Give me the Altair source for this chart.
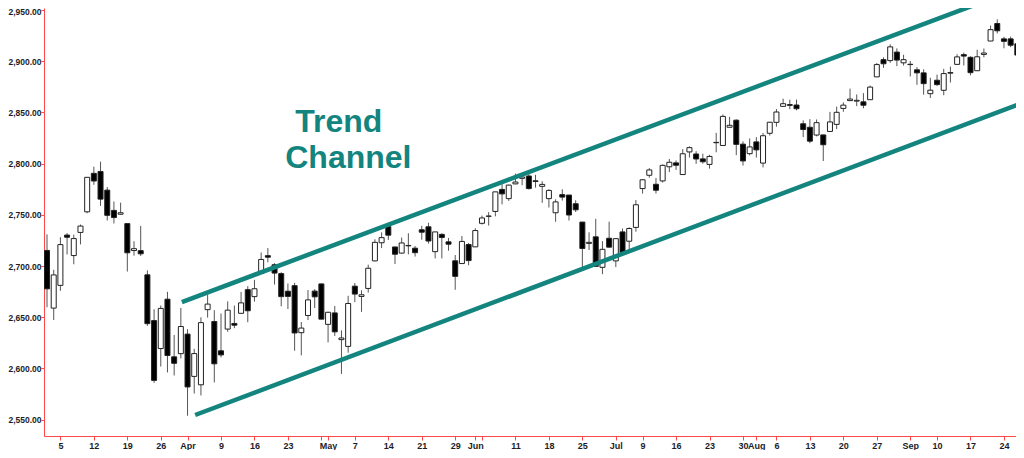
import json
import altair as alt
import pandas as pd

# ---- data (S&P 500 daily candles, Mar–Sep 2018) ----
dates = [
    "03-01", "03-02", "03-05", "03-06", "03-07", "03-08", "03-09", "03-12", "03-13", "03-14",
    "03-15", "03-16", "03-19", "03-20", "03-21", "03-22", "03-23", "03-26", "03-27", "03-28", "03-29",
    "04-02", "04-03", "04-04", "04-05", "04-06", "04-09", "04-10", "04-11", "04-12", "04-13",
    "04-16", "04-17", "04-18", "04-19", "04-20", "04-23", "04-24", "04-25", "04-26", "04-27", "04-30",
    "05-01", "05-02", "05-03", "05-04", "05-07", "05-08", "05-09", "05-10", "05-11", "05-14",
    "05-15", "05-16", "05-17", "05-18", "05-21", "05-22", "05-23", "05-24", "05-25", "05-29", "05-30", "05-31",
    "06-01", "06-04", "06-05", "06-06", "06-07", "06-08", "06-11", "06-12", "06-13", "06-14",
    "06-15", "06-18", "06-19", "06-20", "06-21", "06-22", "06-25", "06-26", "06-27", "06-28", "06-29",
    "07-02", "07-03", "07-05", "07-06", "07-09", "07-10", "07-11", "07-12", "07-13", "07-16",
    "07-17", "07-18", "07-19", "07-20", "07-23", "07-24", "07-25", "07-26", "07-27", "07-30", "07-31",
    "08-01", "08-02", "08-03", "08-06", "08-07", "08-08", "08-09", "08-10", "08-13", "08-14",
    "08-15", "08-16", "08-17", "08-20", "08-21", "08-22", "08-23", "08-24", "08-27", "08-28",
    "08-29", "08-30", "08-31",
    "09-04", "09-05", "09-06", "09-07", "09-10", "09-11", "09-12", "09-13", "09-14", "09-17",
    "09-18", "09-19", "09-20", "09-21", "09-24", "09-25", "09-26",
]
opens = [
    2715.2, 2658.9, 2681.1, 2730.2, 2710.2, 2732.8, 2752.9, 2790.5, 2792.3, 2774.1,
    2754.3, 2750.6, 2741.4, 2715.1, 2715.0, 2691.4, 2646.7, 2619.4, 2667.6, 2611.3, 2614.4,
    2633.5, 2592.2, 2584.0, 2657.4, 2645.8, 2617.2, 2638.4, 2643.9, 2653.8, 2676.9,
    2670.1, 2692.7, 2710.1, 2701.2, 2692.6, 2675.4, 2680.8, 2634.9, 2651.7, 2675.5, 2682.5,
    2643.0, 2654.2, 2628.1, 2621.5, 2680.3, 2670.3, 2678.1, 2705.0, 2722.7, 2738.5,
    2718.6, 2712.6, 2719.7, 2717.4, 2735.4, 2738.3, 2714.0, 2730.9, 2723.6, 2705.1, 2702.4, 2721.0,
    2718.7, 2741.7, 2748.5, 2753.3, 2774.8, 2765.8, 2780.2, 2785.6, 2787.9, 2783.2,
    2777.8, 2765.8, 2752.0, 2769.7, 2769.3, 2760.8, 2742.9, 2722.1, 2728.5, 2698.7, 2727.1,
    2705.0, 2733.3, 2724.2, 2737.7, 2775.6, 2788.6, 2779.8, 2783.1, 2796.9, 2800.7,
    2789.3, 2811.4, 2809.4, 2804.6, 2799.2, 2820.7, 2817.7, 2835.5, 2842.4, 2819.0, 2809.7,
    2821.2, 2800.5, 2829.6, 2840.3, 2855.9, 2856.8, 2857.2, 2838.9, 2835.5, 2827.9,
    2828.0, 2831.4, 2838.3, 2853.9, 2861.5, 2861.0, 2860.3, 2862.4, 2884.7, 2901.5,
    2900.6, 2908.9, 2898.4,
    2897.0, 2891.6, 2888.6, 2868.3, 2881.4, 2871.6, 2888.3, 2896.9, 2906.4, 2903.8,
    2890.7, 2906.6, 2919.7, 2936.8, 2921.8, 2921.8, 2917.0,
]
highs = [
    2730.9, 2696.3, 2728.1, 2732.1, 2730.6, 2740.5, 2786.6, 2797.0, 2801.9, 2777.1,
    2763.0, 2761.9, 2741.4, 2724.2, 2739.1, 2695.7, 2657.7, 2661.4, 2674.8, 2632.7, 2659.1,
    2638.3, 2619.1, 2649.9, 2672.1, 2656.9, 2653.6, 2665.5, 2661.4, 2674.7, 2680.3,
    2686.5, 2713.3, 2717.5, 2702.8, 2693.9, 2682.9, 2683.6, 2645.3, 2676.5, 2677.4, 2682.9,
    2655.3, 2660.9, 2637.1, 2670.9, 2683.4, 2676.3, 2701.3, 2726.1, 2732.9, 2742.1,
    2718.6, 2727.8, 2732.0, 2719.5, 2739.2, 2742.2, 2733.3, 2732.0, 2727.4, 2710.7, 2729.3, 2722.5,
    2736.9, 2749.2, 2752.6, 2772.4, 2779.9, 2779.4, 2790.2, 2789.8, 2791.5, 2789.1,
    2782.8, 2775.0, 2765.1, 2774.9, 2769.3, 2764.2, 2742.9, 2732.9, 2746.1, 2724.3, 2743.3,
    2727.3, 2736.6, 2737.8, 2764.4, 2784.7, 2795.6, 2785.9, 2799.2, 2804.5, 2803.1,
    2814.2, 2816.8, 2812.1, 2809.7, 2808.6, 2830.0, 2848.0, 2845.6, 2843.2, 2821.7, 2824.5,
    2825.8, 2829.9, 2840.4, 2853.3, 2863.4, 2862.4, 2862.5, 2842.2, 2843.4, 2843.1,
    2828.0, 2850.5, 2855.6, 2859.8, 2873.2, 2867.5, 2868.8, 2876.2, 2898.3, 2903.8,
    2916.5, 2912.5, 2906.3,
    2900.2, 2894.2, 2892.1, 2883.8, 2886.9, 2892.5, 2894.7, 2906.8, 2908.3, 2904.7,
    2911.2, 2912.4, 2934.8, 2940.9, 2923.8, 2924.0, 2931.2,
]
lows = [
    2659.7, 2647.3, 2675.8, 2711.3, 2701.7, 2721.1, 2751.5, 2779.3, 2758.7, 2744.4,
    2741.5, 2750.0, 2694.6, 2710.1, 2709.8, 2641.6, 2585.9, 2601.8, 2596.1, 2593.1, 2609.7,
    2553.8, 2575.5, 2573.6, 2649.6, 2586.3, 2610.8, 2635.8, 2639.3, 2653.8, 2645.1,
    2665.2, 2692.1, 2703.6, 2681.9, 2660.6, 2658.0, 2617.3, 2612.7, 2647.2, 2659.0, 2648.0,
    2625.4, 2631.7, 2594.6, 2615.3, 2664.7, 2655.2, 2674.1, 2704.5, 2717.5, 2725.5,
    2701.9, 2712.2, 2711.4, 2709.2, 2725.7, 2721.9, 2707.4, 2707.4, 2715.0, 2676.8, 2702.4, 2700.7,
    2718.7, 2740.5, 2739.5, 2748.5, 2760.2, 2763.6, 2779.9, 2778.8, 2774.7, 2776.5,
    2761.7, 2757.1, 2743.2, 2763.9, 2744.4, 2752.7, 2698.7, 2715.6, 2699.4, 2692.0, 2718.0,
    2699.0, 2711.2, 2716.0, 2733.5, 2770.7, 2786.2, 2770.8, 2781.5, 2791.7, 2793.8,
    2789.2, 2805.9, 2799.8, 2800.0, 2795.1, 2811.1, 2817.7, 2835.3, 2808.3, 2798.1, 2808.1,
    2805.9, 2796.3, 2827.4, 2836.0, 2855.9, 2853.1, 2852.0, 2825.8, 2819.9, 2826.6,
    2802.5, 2831.4, 2833.7, 2850.6, 2861.3, 2856.1, 2854.0, 2862.4, 2884.7, 2893.5,
    2898.4, 2895.2, 2895.8,
    2885.1, 2876.9, 2867.3, 2864.1, 2875.9, 2866.8, 2879.2, 2896.4, 2895.8, 2886.2,
    2890.4, 2903.8, 2919.7, 2927.1, 2912.6, 2913.7, 2903.3,
]
closes = [
    2677.7, 2691.3, 2720.9, 2728.1, 2726.8, 2739.0, 2786.6, 2783.0, 2765.3, 2749.5,
    2747.3, 2752.0, 2712.9, 2716.9, 2711.9, 2643.7, 2588.3, 2658.6, 2612.6, 2605.0, 2640.9,
    2581.9, 2614.5, 2644.7, 2662.8, 2604.5, 2613.2, 2656.9, 2642.2, 2664.0, 2656.3,
    2677.8, 2706.4, 2708.6, 2693.1, 2670.1, 2670.3, 2634.6, 2639.4, 2666.9, 2669.9, 2648.1,
    2654.8, 2635.7, 2629.7, 2663.4, 2672.6, 2671.9, 2697.8, 2723.1, 2727.7, 2730.1,
    2711.5, 2722.5, 2720.1, 2713.0, 2733.0, 2724.4, 2733.3, 2727.8, 2721.3, 2689.9, 2724.0, 2705.3,
    2734.6, 2746.9, 2748.8, 2772.4, 2770.4, 2779.0, 2782.0, 2786.9, 2775.6, 2782.5,
    2779.7, 2773.8, 2762.6, 2767.3, 2749.8, 2754.9, 2717.1, 2723.1, 2699.6, 2716.3, 2718.4,
    2726.7, 2713.2, 2736.6, 2759.8, 2784.2, 2793.8, 2774.0, 2798.3, 2801.3, 2798.4,
    2809.6, 2815.6, 2804.5, 2801.8, 2807.0, 2820.4, 2846.1, 2837.4, 2818.8, 2802.6, 2816.3,
    2813.4, 2827.2, 2840.4, 2850.4, 2858.5, 2857.7, 2853.6, 2833.3, 2821.9, 2840.0,
    2818.4, 2840.7, 2850.1, 2857.1, 2863.0, 2861.8, 2857.0, 2874.7, 2896.7, 2897.5,
    2914.0, 2901.1, 2901.5,
    2896.7, 2888.6, 2878.1, 2871.7, 2877.1, 2887.9, 2888.9, 2904.2, 2905.0, 2888.8,
    2904.3, 2908.0, 2930.8, 2929.7, 2919.4, 2915.6, 2906.0,
]

# x-axis ticks (dates) and their labels ("" = tick without label)
tick_dates = ["03-05", "03-12", "03-19", "03-26", "04-02", "04-09", "04-16", "04-23", "04-30",
              "05-01", "05-07", "05-14", "05-21", "05-29", "06-01", "06-04", "06-11", "06-18",
              "06-25", "07-02", "07-09", "07-16", "07-23", "07-30", "08-01", "08-06", "08-13",
              "08-20", "08-27", "09-04", "09-10", "09-17", "09-24"]
tick_labels = ["5", "12", "19", "26", "Apr", "9", "16", "23", "",
               "May", "7", "14", "21", "29", "Jun", "", "11", "18",
               "25", "Jul", "9", "16", "23", "30", "Aug", "6", "13",
               "20", "27", "Sep", "10", "17", "24"]
y_ticks = [2550, 2600, 2650, 2700, 2750, 2800, 2850, 2900, 2950]

# trend channel lines (trading-day index, price)
upper_x = [20.15, 146.0]
upper_y = [2664.8, 2973.0]
lower_x = [22.14, 146.0]
lower_y = [2554.5, 2859.9]

# annotation
note_text = ["Trend", "Channel"]
note_x = [37.1, 35.6]
note_y = [2830.6, 2796.0]

# ---- build ----
TEAL = "#13847E"
RED = "#FF4848"

df = pd.DataFrame({"date": dates, "open": opens, "high": highs, "low": lows, "close": closes})
df["idx"] = range(len(df))
df["up"] = df["close"] >= df["open"]

tick_idx = [dates.index(d) for d in tick_dates]
label_expr = f"{json.dumps(tick_labels)}[indexof({json.dumps(tick_idx)}, datum.value)]"

xscale = alt.Scale(domain=[-0.45, 144.8], nice=False, zero=False, padding=0)
yscale = alt.Scale(domain=[2534.0, 2951.95], nice=False, zero=False, padding=0)

xaxis = alt.Axis(values=tick_idx, labelExpr=label_expr, title=None, grid=False,
                 domainColor=RED, tickColor=RED, tickSize=4, labelPadding=1,
                 labelFont="Liberation Sans", labelFontWeight="bold", labelFontSize=9,
                 labelColor="#1c1c28", labelOverlap=False, labelFlush=False)
yaxis = alt.Axis(values=y_ticks, format=",.2f", title=None, grid=False,
                 domainColor=RED, tickColor=RED, tickSize=3, labelPadding=0,
                 labelFont="Liberation Sans", labelFontWeight="bold", labelFontSize=8.5,
                 labelColor="#1c1c28", labelOverlap=False, labelFlush=False,
                 labelOffset={"condition": {"test": "datum.value >= 2950", "value": 2}, "value": 0})


def X(field):
    return alt.X(field, type="quantitative", scale=xscale, axis=xaxis)


def Y(field):
    return alt.Y(field, type="quantitative", scale=yscale, axis=yaxis)


base = alt.Chart(df)
wicks = base.mark_rule(color="#555555", strokeWidth=1, clip=True).encode(
    x=X("idx"), y=Y("low"), y2="high"
)
bodies = base.mark_bar(size=5, stroke="#222222", strokeWidth=1, clip=True).encode(
    x=X("idx"), y=Y("open"), y2="close",
    fill=alt.condition("datum.up", alt.value("white"), alt.value("black")),
)

up_df = pd.DataFrame({"i": upper_x, "p": upper_y})
lo_df = pd.DataFrame({"i": lower_x, "p": lower_y})
upper = alt.Chart(up_df).mark_line(color=TEAL, strokeWidth=4.5, clip=True).encode(x=X("i"), y=Y("p"))
lower = alt.Chart(lo_df).mark_line(color=TEAL, strokeWidth=4.5, clip=True).encode(x=X("i"), y=Y("p"))

note_df = pd.DataFrame({"t": note_text, "i": note_x, "p": note_y})
notes = alt.Chart(note_df).mark_text(
    align="left", baseline="alphabetic", font="Liberation Sans", fontSize=32,
    fontWeight="bold", color=TEAL
).encode(x=X("i"), y=Y("p"), text="t:N")

chart = alt.layer(wicks, bodies, upper, lower, notes).properties(
    width=972, height=428,
    padding={"left": 36, "top": 0, "right": 0, "bottom": 14},
    autosize=alt.AutoSizeParams(type="none"),
    background="white",
).configure_view(stroke=None)

chart.save("out.html", embed_options={"renderer": "svg", "actions": False})
